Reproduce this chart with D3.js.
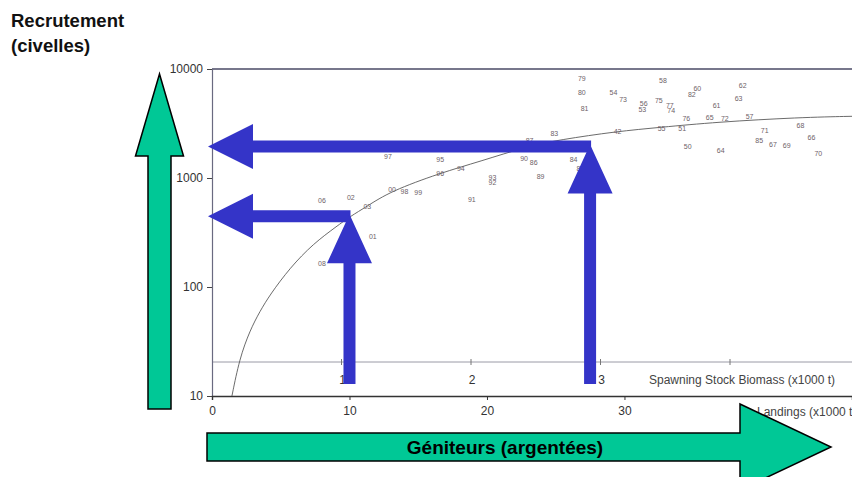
<!DOCTYPE html>
<html>
<head>
<meta charset="utf-8">
<script src="https://cdn.jsdelivr.net/npm/d3@7"></script>
<style>
html,body{margin:0;padding:0;background:#fff;}
svg{display:block;font-family:"Liberation Sans",Arial,sans-serif;}
</style>
</head>
<body>
<svg id="chart" width="852" height="477"></svg>
<script>
// ---- data ----
const yearLabels = ["79","80","81","54","73","56","53","58","75","77","74","82","60","62","63","61","76","65","72","57","42","55","51","83","87","71","68","66","85","67","69","70","50","64","90","86","84","88","89","97","95","94","96","93","92","91","00","98","99","02","06","03","01","08"];
const landings   = [26.9,26.9,27.1,29.2,29.9,31.4,31.3,32.8,32.5,33.3,33.4,34.9,35.3,38.6,38.3,36.7,34.5,36.2,37.3,39.1,29.5,32.7,34.2,24.9,23.1,40.2,42.8,43.6,39.8,40.8,41.8,44.1,34.6,37.0,22.7,23.4,26.3,26.8,23.9,12.8,16.6,18.1,16.6,20.4,20.4,18.9,13.1,14.0,15.0,10.1,8.0,11.3,11.7,8.0];
const recruits   = [8150,6150,4380,6060,5300,4800,4230,7860,5120,4640,4170,5890,6590,7030,5340,4640,3550,3600,3550,3670,2650,2830,2830,2580,2230,2710,3010,2350,2210,2030,1990,1670,1950,1790,1500,1400,1470,1210,1030,1560,1470,1210,1090,1010,900,640,780,750,730,660,620,550,290,166];

// stock-recruitment curve points
const curveX = [1.45,2.0,2.76,3.49,4.22,5.67,7.37,9.07,10.04,11.25,12.95,16.58,19.49,22.89,25.3,29.43,32.58,36.7,42.76,46.55];
const curveR = [10,22,40,60,85,150,250,360,443,547,752,1109,1419,1945,2244,2674,2912,3260,3597,3682];

const yTicks = [10,100,1000,10000];
const xTicks = [0,10,20,30];
const ssbTicks = [1,2,3,4];
const ssbLabels = ["1","2","3",""];

// blue reading arrows: landings value -> recruitment value
const arrowLandings = [10,27.5];
const arrowRecruits = [445,1950];

// ---- drawing ----
const svg = d3.select("#chart");
const W = 852, H = 477;
const x = d3.scaleLinear().domain([0,46.55]).range([212,852]);
const y = d3.scaleLog().domain([10,10000]).range([396,69]);
const ssb = d3.scaleLinear().domain([0,1]).range([212,341.5]);

const blue = "#3434c8", green = "#00c896";

// top border
svg.append("line").attr("x1",x(0)).attr("x2",W).attr("y1",y(10000)).attr("y2",y(10000))
  .attr("stroke","#4a4a66").attr("stroke-width",1.6);
// SSB secondary axis line
const ssbY = 362;
svg.append("line").attr("x1",x(0)).attr("x2",W).attr("y1",ssbY).attr("y2",ssbY)
  .attr("stroke","#9a9aa6").attr("stroke-width",1);
svg.selectAll(".ssbtick").data(ssbTicks).enter().append("line")
  .attr("x1",d=>ssb(d)).attr("x2",d=>ssb(d)).attr("y1",ssbY-3).attr("y2",ssbY+3)
  .attr("stroke","#777").attr("stroke-width",1);
svg.selectAll(".ssblab").data(ssbTicks).enter().append("text")
  .attr("x",d=>ssb(d)+1).attr("y",ssbY+22).attr("text-anchor","middle")
  .attr("font-size",12).attr("fill","#333").text((d,i)=>ssbLabels[i]);
svg.append("text").attr("x",649).attr("y",ssbY+22).attr("font-size",12).attr("fill","#444")
  .text("Spawning Stock Biomass (x1000 t)");

// y axis
const yAxis = d3.axisLeft(y).tickValues(yTicks).tickFormat(d3.format("d")).tickSize(5).tickPadding(4);
const gy = svg.append("g").attr("transform",`translate(${x(0)},0)`).call(yAxis);
gy.select(".domain").attr("stroke","#6a6a80").attr("stroke-width",1.2);
gy.selectAll(".tick line").attr("stroke","#444");
gy.selectAll(".tick text").attr("font-size",12).attr("fill","#333").attr("font-family","Liberation Sans, Arial, sans-serif");

// x axis
const xAxis = d3.axisBottom(x).tickValues(xTicks).tickSize(4).tickPadding(6);
const gx = svg.append("g").attr("transform",`translate(0,${y(10)})`).call(xAxis);
gx.select(".domain").attr("stroke","#333").attr("stroke-width",1.4);
gx.selectAll(".tick line").attr("stroke","#333");
gx.selectAll(".tick text").attr("font-size",12).attr("fill","#333").attr("font-family","Liberation Sans, Arial, sans-serif");
svg.append("text").attr("x",757).attr("y",y(10)+20).attr("font-size",12).attr("fill","#444")
  .text("Landings (x1000 t)");

// curve
const line = d3.line().x((d,i)=>x(curveX[i])).y((d,i)=>y(curveR[i])).curve(d3.curveBasis);
svg.append("path").datum(curveX).attr("d",line).attr("fill","none")
  .attr("stroke","#5a5a5a").attr("stroke-width",0.9);

// year labels
svg.selectAll(".yr").data(yearLabels).enter().append("text")
  .attr("x",(d,i)=>x(landings[i])).attr("y",(d,i)=>y(recruits[i])+2.5)
  .attr("text-anchor","middle").attr("font-size",7).attr("fill","#6e6268")
  .text(d=>d);

// blue arrows
function upArrow(cx, tip, bottom){
  const hl = 49, hw = 22.5, sw = 6;
  return `M${cx-sw},${bottom}L${cx-sw},${tip+hl}L${cx-hw},${tip+hl}L${cx},${tip}L${cx+hw},${tip+hl}L${cx+sw},${tip+hl}L${cx+sw},${bottom}Z`;
}
function leftArrow(cy, tip, right){
  const hl = 45, hw = 22.5, sw = 6;
  return `M${right},${cy-sw}L${tip+hl},${cy-sw}L${tip+hl},${cy-hw}L${tip},${cy}L${tip+hl},${cy+hw}L${tip+hl},${cy+sw}L${right},${cy+sw}Z`;
}
arrowLandings.forEach((lv,i)=>{
  const cx = x(lv), cy = y(arrowRecruits[i]);
  svg.append("path").attr("d",leftArrow(cy, x(0)-4, cx+1)).attr("fill",blue);
  svg.append("path").attr("d",upArrow(cx, cy-2, y(10)-12)).attr("fill",blue);
});

// green axis arrows
const gv = {cx:159.5, tip:74, base:156, hw:24, sw:11.5, bottom:409};
svg.append("path").attr("d",
  `M${gv.cx-gv.sw},${gv.bottom}L${gv.cx-gv.sw},${gv.base}L${gv.cx-gv.hw},${gv.base}L${gv.cx},${gv.tip}L${gv.cx+gv.hw},${gv.base}L${gv.cx+gv.sw},${gv.base}L${gv.cx+gv.sw},${gv.bottom}Z`)
  .attr("fill",green).attr("stroke","#000").attr("stroke-width",1.5);
const gh = {left:207, cy:447, sw:14, base:740, hw:43, tip:831};
svg.append("path").attr("d",
  `M${gh.left},${gh.cy-gh.sw}L${gh.base},${gh.cy-gh.sw}L${gh.base},${gh.cy-gh.hw}L${gh.tip},${gh.cy}L${gh.base},${gh.cy+gh.hw}L${gh.base},${gh.cy+gh.sw}L${gh.left},${gh.cy+gh.sw}Z`)
  .attr("fill",green).attr("stroke","#000").attr("stroke-width",1.5);
svg.append("text").attr("x",505).attr("y",454).attr("text-anchor","middle")
  .attr("font-size",19).attr("font-weight","bold").attr("fill","#000")
  .text("Géniteurs (argentées)");

// title
svg.append("text").attr("x",11).attr("y",27).attr("font-size",18.5).attr("font-weight","bold").attr("fill","#111").text("Recrutement");
svg.append("text").attr("x",11).attr("y",52).attr("font-size",18.5).attr("font-weight","bold").attr("fill","#111").text("(civelles)");
</script>
</body>
</html>
